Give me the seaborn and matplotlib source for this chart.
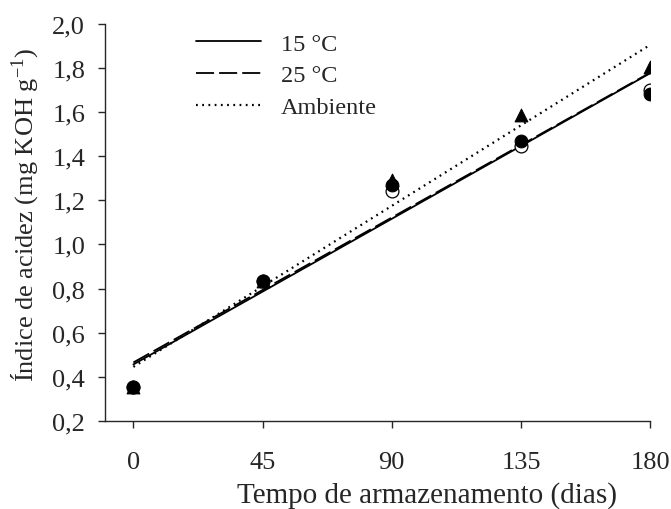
import numpy as np
import pandas as pd
import matplotlib
matplotlib.use("Agg")
import matplotlib.pyplot as plt
import seaborn as sns
from matplotlib.ticker import FuncFormatter

# Storage time (days) and acidity index per temperature
dias = [0, 45, 90, 135, 180]
t15 = [0.355, 0.835, 1.243, 1.448, 1.700]
t25 = [0.355, 0.835, 1.270, 1.468, 1.682]
ambiente = [0.355, 0.835, 1.292, 1.589, 1.804]

x_ticks = [0, 45, 90, 135, 180]
y_ticks = [0.2, 0.4, 0.6, 0.8, 1.0, 1.2, 1.4, 1.6, 1.8, 2.0]

sns.set_style("ticks")
plt.rcParams['font.family'] = ['Liberation Serif', 'DejaVu Serif']
plt.rcParams['mathtext.fontset'] = 'custom'
plt.rcParams['mathtext.rm'] = 'Liberation Serif'
plt.rcParams['mathtext.default'] = 'regular'

fig = plt.figure(figsize=(6.71, 5.10), dpi=100)
ax = fig.add_axes([0.156, 0.173, 0.813, 0.778])

# regression lines
sns.regplot(x=dias, y=t15, ci=None, scatter=False, ax=ax,
            line_kws=dict(color='black', lw=1.3, ls='-'), label='15 °C')
sns.regplot(x=dias, y=t25, ci=None, scatter=False, ax=ax,
            line_kws=dict(color='black', lw=1.3, dashes=(10, 2.8)), label='25 °C')
sns.regplot(x=dias, y=ambiente, ci=None, scatter=False, ax=ax,
            line_kws=dict(color='black', lw=1.6, dashes=(0.8, 2.0)), label='Ambiente')

# data points
sns.scatterplot(x=dias, y=t15, ax=ax, marker='o', s=85, facecolor='white',
                edgecolor='black', linewidth=0.9, zorder=3)
sns.scatterplot(x=dias, y=t25, ax=ax, marker='o', s=85, color='black',
                edgecolor='black', zorder=4)
sns.scatterplot(x=dias, y=ambiente, ax=ax, marker='^', s=85, color='black',
                edgecolor='black', zorder=5)

ax.set_xlim(-10, 180)
ax.set_ylim(0.2, 2.0)
ax.set_xticks(x_ticks)
ax.set_yticks(y_ticks)
ax.yaxis.set_major_formatter(FuncFormatter(lambda v, p: f"{v:.1f}".replace('.', ',')))
ax.tick_params(labelsize=19, length=5, width=1, direction='out')
ax.tick_params(axis='x', pad=17)
ax.tick_params(axis='y', pad=9)
sns.despine(ax=ax)
for s in ['left', 'bottom']:
    ax.spines[s].set_linewidth(1)

ax.set_xlabel('Tempo de armazenamento (dias)', fontsize=21)
ax.xaxis.set_label_coords(0.59, -0.152)
ax.set_ylabel('Índice de acidez (mg KOH g$^{-1}$)', fontsize=19)
ax.yaxis.set_label_coords(-0.119, 0.52)

ax.legend(loc='upper left', bbox_to_anchor=(0.14, 1.015), frameon=False,
          fontsize=17.5, handlelength=2.7, handletextpad=0.8, labelspacing=0.4,
          borderaxespad=0.2)

fig.savefig('out.png', dpi=100)
